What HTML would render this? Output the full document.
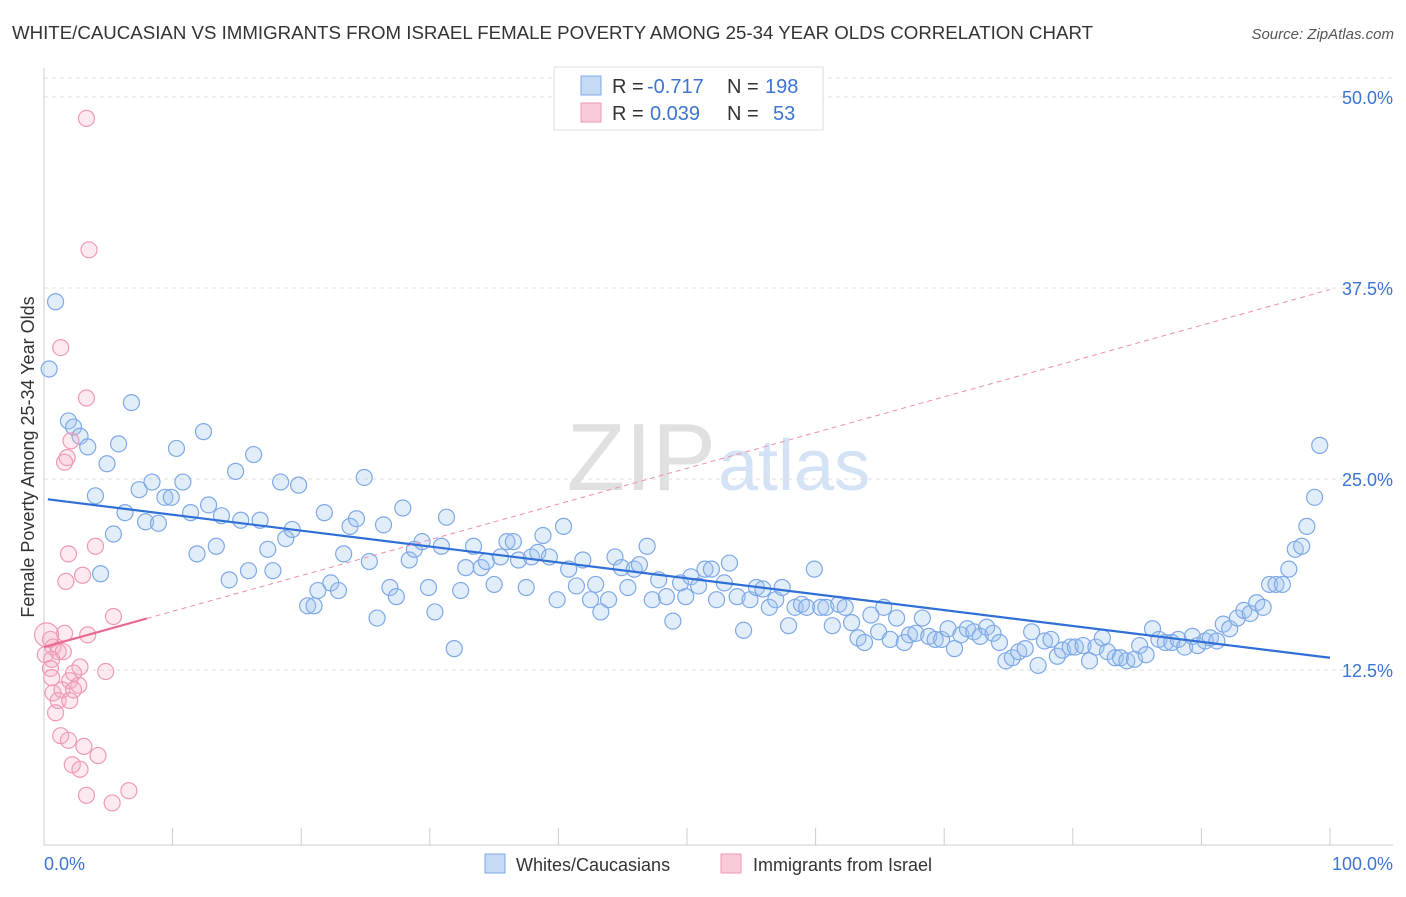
<!DOCTYPE html>
<html><head><meta charset="utf-8"><style>
body{margin:0;background:#fff;font-family:"Liberation Sans",sans-serif;}
svg text{font-family:"Liberation Sans",sans-serif;}
</style></head><body>
<svg id="c" width="1406" height="892" xmlns="http://www.w3.org/2000/svg">
<text x="12" y="39" font-size="18" fill="#333" textLength="1081" lengthAdjust="spacingAndGlyphs">WHITE/CAUCASIAN VS IMMIGRANTS FROM ISRAEL FEMALE POVERTY AMONG 25-34 YEAR OLDS CORRELATION CHART</text>
<text x="1394" y="39" font-size="15" fill="#555" font-style="italic" text-anchor="end">Source: ZipAtlas.com</text>
<text x="716" y="490" font-size="96" fill="#e0e0e0" text-anchor="end" font-family="Liberation Serif">ZIP</text>
<text x="718" y="490" font-size="72" fill="#d3e2f4">atlas</text>
<g id="grid"></g><g id="axes"></g><g id="pts"></g><g id="lines"></g>
<text transform="translate(34,457) rotate(-90)" font-size="18" fill="#333" text-anchor="middle">Female Poverty Among 25-34 Year Olds</text>
<text x="44" y="870" font-size="18" fill="#3b74d1">0.0%</text>
<text x="1393" y="870" font-size="18" fill="#3b74d1" text-anchor="end">100.0%</text>
<g>
<rect x="554" y="67" width="269" height="63" fill="#fff" stroke="#ddd"/>
<rect x="581" y="76" width="20" height="19" fill="#c5daf5" stroke="#7ea9e6"/>
<rect x="581" y="103" width="20" height="19" fill="#f9cbd8" stroke="#ef9ab4"/>
<text x="612" y="93" font-size="20" fill="#333">R =</text>
<text x="647" y="93" font-size="20" fill="#3b74d1">-0.717</text>
<text x="727" y="93" font-size="20" fill="#333">N =</text>
<text x="765" y="93" font-size="20" fill="#3b74d1">198</text>
<text x="612" y="120" font-size="20" fill="#333">R =</text>
<text x="650" y="120" font-size="20" fill="#3b74d1">0.039</text>
<text x="727" y="120" font-size="20" fill="#333">N =</text>
<text x="773" y="120" font-size="20" fill="#3b74d1">53</text>
</g>
<g>
<rect x="485" y="854" width="20" height="19" fill="#c5daf5" stroke="#7ea9e6"/>
<text x="516" y="871" font-size="18" fill="#333">Whites/Caucasians</text>
<rect x="721" y="854" width="20" height="19" fill="#f9cbd8" stroke="#ef9ab4"/>
<text x="753" y="871" font-size="18" fill="#333">Immigrants from Israel</text>
</g>
</svg>
<script>
const yTicks=[12.5,25,37.5,50];
const yTickLabels=["12.5%","25.0%","37.5%","50.0%"];
const blueX=[0.9,0.4,1.9,2.3,2.8,3.4,4.0,4.4,4.9,5.4,5.8,6.3,6.8,7.4,7.9,8.4,8.9,9.4,9.9,10.3,10.8,11.4,11.9,12.4,12.8,13.4,13.8,14.4,14.9,15.3,15.9,16.3,16.8,17.4,17.8,18.4,18.8,19.3,19.8,20.5,21.0,21.3,21.8,22.3,22.9,23.3,23.8,24.3,24.9,25.3,25.9,26.4,26.9,27.4,27.9,28.4,28.8,29.4,29.9,30.4,30.9,31.3,31.9,32.4,32.8,33.4,34.0,34.4,35.0,35.5,36.0,36.5,36.9,37.5,37.9,38.4,38.8,39.3,39.9,40.4,40.8,41.4,41.9,42.5,42.9,43.3,43.9,44.4,44.9,45.4,45.9,46.3,46.9,47.3,47.8,48.4,48.9,49.5,49.9,50.3,50.9,51.4,51.9,52.3,52.9,53.3,53.9,54.4,54.9,55.4,55.9,56.4,56.9,57.4,57.9,58.4,58.9,59.3,59.9,60.4,60.8,61.3,61.8,62.3,62.8,63.3,63.8,64.3,64.9,65.3,65.8,66.3,66.9,67.3,67.8,68.3,68.8,69.3,69.8,70.3,70.8,71.3,71.8,72.3,72.8,73.3,73.8,74.3,74.8,75.3,75.8,76.3,76.8,77.3,77.8,78.3,78.8,79.2,79.8,80.2,80.8,81.3,81.8,82.3,82.7,83.3,83.7,84.2,84.8,85.2,85.7,86.2,86.7,87.2,87.7,88.2,88.7,89.3,89.7,90.3,90.7,91.2,91.7,92.2,92.8,93.3,93.8,94.3,94.8,95.3,95.8,96.3,96.8,97.3,97.8,98.2,98.8,99.2];
const blueY=[36.6,32.2,28.8,28.4,27.8,27.1,23.9,18.8,26.0,21.4,27.3,22.8,30.0,24.3,22.2,24.8,22.1,23.8,23.8,27.0,24.8,22.8,20.1,28.1,23.3,20.6,22.6,18.4,25.5,22.3,19.0,26.6,22.3,20.4,19.0,24.8,21.1,21.7,24.6,16.7,16.7,17.7,22.8,18.2,17.7,20.1,21.9,22.4,25.1,19.6,15.9,22.0,17.9,17.3,23.1,19.7,20.4,20.9,17.9,16.3,20.6,22.5,13.9,17.7,19.2,20.6,19.2,19.6,18.1,19.9,20.9,20.9,19.7,17.9,19.9,20.2,21.3,19.9,17.1,21.9,19.1,18.0,19.7,17.1,18.1,16.3,17.1,19.9,19.2,17.9,19.1,19.4,20.6,17.1,18.4,17.3,15.7,18.2,17.3,18.6,18.0,19.1,19.1,17.1,18.2,19.5,17.3,15.1,17.1,17.9,17.8,16.6,17.1,17.9,15.4,16.6,16.8,16.6,19.1,16.6,16.6,15.4,16.8,16.6,15.6,14.6,14.3,16.1,15.0,16.6,14.5,15.9,14.3,14.8,14.9,15.9,14.7,14.5,14.5,15.2,13.9,14.8,15.2,15.0,14.7,15.3,14.9,14.3,13.1,13.3,13.7,13.9,15.0,12.8,14.4,14.5,13.4,13.8,14.0,14.0,14.1,13.1,14.0,14.6,13.7,13.3,13.3,13.1,13.2,14.1,13.5,15.2,14.5,14.3,14.3,14.5,14.0,14.7,14.1,14.4,14.6,14.4,15.5,15.2,15.9,16.4,16.2,16.9,16.6,18.1,18.1,18.1,19.1,20.4,20.6,21.9,23.8,27.2];
const pinkX=[3.3,3.5,1.3,3.3,2.1,1.8,1.6,1.9,4.0,3.0,1.7,5.4,3.4,1.6,0.5,0.7,1.1,1.5,0.1,0.6,0.5,2.8,2.3,4.8,0.6,2.0,2.7,0.7,1.4,2.3,1.1,2.0,0.9,1.3,1.9,3.1,4.2,2.2,2.8,3.3,5.3,6.6,0.2];
const pinkY=[48.6,40.0,33.6,30.3,27.5,26.4,26.1,20.1,20.6,18.7,18.3,16.0,14.8,14.9,14.5,14.0,13.7,13.7,13.5,13.2,12.6,12.7,12.3,12.4,12.0,11.8,11.5,11.0,11.2,11.2,10.5,10.5,9.7,8.2,7.9,7.5,6.9,6.3,6.0,4.3,3.8,4.6,14.8];
const blueTrend=[23.7,13.3];
const pinkTrend=[14.0,37.4];
const NS="http://www.w3.org/2000/svg";
const sx=v=>44+v*12.86;
const sy=v=>861-v*15.28;
function mk(t,a,p){const e=document.createElementNS(NS,t);for(const k in a)e.setAttribute(k,a[k]);p.appendChild(e);return e;}
const grid=document.getElementById('grid'),axes=document.getElementById('axes'),pts=document.getElementById('pts'),lines=document.getElementById('lines');
let tl=mk('line',{x1:44,x2:1393,y1:78,y2:78,stroke:'#ddd','stroke-dasharray':'4,4'},grid);


yTicks.forEach((t,i)=>{
 const g=mk('line',{x1:44,x2:1393,y1:sy(t),y2:sy(t),stroke:'#ddd','stroke-dasharray':'4,4'},grid);
 
 
 const l=mk('text',{x:1393,y:sy(t)+7,'font-size':18,fill:'#3b74d1','text-anchor':'end'},axes);
 l.textContent=yTickLabels[i];
 
 
});
let ax=mk('line',{x1:44,x2:1393,y1:845,y2:845,stroke:'#ccc'},axes);


let ay=mk('line',{x1:44,x2:44,y1:68,y2:845,stroke:'#ccc'},axes);


for(let i=0;i<=10;i++){
 const t=mk('line',{x1:sx(i*10),x2:sx(i*10),y1:828,y2:845,stroke:'#ccc'},axes);
 
 
}
blueX.forEach((x,i)=>{
 const c=mk('circle',{cx:sx(x),cy:sy(blueY[i]),r:8,fill:'rgba(160,195,240,0.3)',stroke:'#7ea9e6','stroke-width':1.2},pts);
 
 
});
pinkX.forEach((x,i)=>{
 const c=mk('circle',{cx:sx(x),cy:sy(pinkY[i]),r:(i==pinkX.length-1?12:8),fill:'rgba(245,170,195,0.25)',stroke:'#ef9ab4','stroke-width':1.2},pts);
 
 
});
let bl=mk('line',{x1:sx(0.3),y1:sy(blueTrend[0]+(blueTrend[1]-blueTrend[0])*0.003),x2:sx(100),y2:sy(blueTrend[1]),stroke:'#2f6fd6','stroke-width':2.2},lines);


const pAt=x=>pinkTrend[0]+(pinkTrend[1]-pinkTrend[0])*x/100;
let pd=mk('line',{x1:sx(8),y1:sy(pAt(8)),x2:sx(100),y2:sy(pAt(100)),stroke:'#ec8fac','stroke-width':1,'stroke-dasharray':'5,4'},lines);


let ps=mk('line',{x1:sx(0),y1:sy(pAt(0)),x2:sx(8),y2:sy(pAt(8)),stroke:'#e8698f','stroke-width':2.2},lines);


</script>
</body></html>
